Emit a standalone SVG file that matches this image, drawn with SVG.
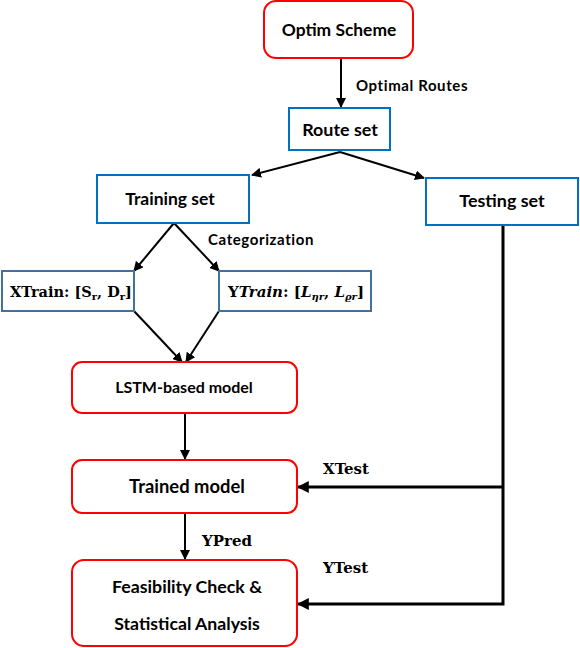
<svg xmlns="http://www.w3.org/2000/svg" width="580" height="648" viewBox="0 0 580 648">
<style>
.red{fill:#fff;stroke:#ff0000;stroke-width:2}
.blue{fill:#fff;stroke:#0070c0;stroke-width:2}
.gblue{fill:#fff;stroke:#41719c;stroke-width:2}
.lbl{font-family:Lato,"Open Sans",sans-serif;font-weight:bold;fill:#000;text-anchor:middle}
.sm{font-family:Lato,"Open Sans",sans-serif;font-weight:bold;font-size:15px;letter-spacing:0.6px;fill:#000}
.math{font-family:"DejaVu Serif","Liberation Serif",serif;font-weight:bold;fill:#000}
.sub{font-size:10px}
.ln{stroke:#000;stroke-width:2;fill:none}
.thick{stroke:#000;stroke-width:3;fill:none}
</style>
<defs>
<marker id="ah" viewBox="0 0 10 10" refX="9" refY="5" markerWidth="5" markerHeight="5" orient="auto" markerUnits="strokeWidth">
<path d="M0,0 L10,5 L0,10 z" fill="#000"/>
</marker>
<marker id="ah2" viewBox="0 0 10 10" refX="9" refY="5" markerWidth="4" markerHeight="4" orient="auto" markerUnits="strokeWidth">
<path d="M0,0 L10,5 L0,10 z" fill="#000"/>
</marker>
</defs>
<g id="connectors">
<line class="ln" x1="341" y1="58" x2="341" y2="107" marker-end="url(#ah)"/>
<line class="ln" x1="340" y1="152" x2="252" y2="175" marker-end="url(#ah)"/>
<line class="ln" x1="340" y1="152" x2="424" y2="178" marker-end="url(#ah)"/>
<line class="ln" x1="174" y1="223" x2="134" y2="271" marker-end="url(#ah)"/>
<line class="ln" x1="174" y1="223" x2="219" y2="271" marker-end="url(#ah)"/>
<line class="ln" x1="134" y1="311" x2="182" y2="362" marker-end="url(#ah)"/>
<line class="ln" x1="219" y1="311" x2="186" y2="362" marker-end="url(#ah)"/>
<line class="ln" x1="185" y1="413" x2="185" y2="459" marker-end="url(#ah)"/>
<line class="ln" x1="185" y1="513" x2="185" y2="559" marker-end="url(#ah)"/>
<polyline class="thick" points="503,225 503,604 298,604" marker-end="url(#ah2)"/>
<line class="thick" x1="503" y1="487" x2="298" y2="487" marker-end="url(#ah2)"/>
<text class="sm" x="356" y="91">Optimal Routes</text>
<text class="sm" x="208" y="245">Categorization</text>
<text class="math" x="323" y="474" style="font-size:15px">XTest</text>
<text class="math" x="202" y="546" style="font-size:15px">YPred</text>
<text class="math" x="323" y="573" style="font-size:15px">YTest</text>
</g>
<g id="optim-scheme">
<rect class="red" x="264" y="1" width="149" height="57" rx="12"/>
<text class="lbl" x="339" y="36" style="font-size:17.4px">Optim Scheme</text>
</g>
<g id="route-set">
<rect class="blue" x="289" y="108" width="101" height="42"/>
<text class="lbl" x="340" y="136" style="font-size:17.9px">Route set</text>
</g>
<g id="training-set">
<rect class="blue" x="97" y="175" width="152" height="48"/>
<text class="lbl" x="170" y="205" style="font-size:17.5px">Training set</text>
</g>
<g id="testing-set">
<rect class="blue" x="426" y="178" width="152" height="47"/>
<text class="lbl" x="502" y="207" style="font-size:17.9px">Testing set</text>
</g>
<g id="xtrain">
<rect class="gblue" x="2" y="271" width="132" height="40"/>
<text class="math" x="10" y="297" style="font-size:14.5px">XTrain: [S<tspan class="sub" dy="3">r</tspan><tspan dy="-3">, D</tspan><tspan class="sub" dy="3">r</tspan><tspan dy="-3">]</tspan></text>
</g>
<g id="ytrain">
<rect class="gblue" x="219" y="271" width="152" height="40"/>
<text class="math" x="228" y="297" style="font-size:15px">Y<tspan font-style="italic">Train</tspan>: [<tspan font-style="italic">L</tspan><tspan class="sub" dy="3" font-style="italic">ηr</tspan><tspan dy="-3">, </tspan><tspan font-style="italic">L</tspan><tspan class="sub" dy="3" font-style="italic">ϱr</tspan><tspan dy="-3">]</tspan></text>
</g>
<g id="lstm-model">
<rect class="red" x="72" y="362" width="225" height="51" rx="10"/>
<text class="lbl" x="184" y="393" style="font-size:16px">LSTM-based model</text>
</g>
<g id="trained-model">
<rect class="red" x="72" y="460" width="225" height="53" rx="10"/>
<text class="lbl" x="187" y="493" style="font-size:18.4px">Trained model</text>
</g>
<g id="feasibility">
<rect class="red" x="72" y="560" width="225" height="86" rx="12"/>
<text class="lbl" x="187" y="593" style="font-size:17.8px">Feasibility Check &amp;</text>
<text class="lbl" x="187" y="630" style="font-size:17.7px">Statistical Analysis</text>
</g>
</svg>
